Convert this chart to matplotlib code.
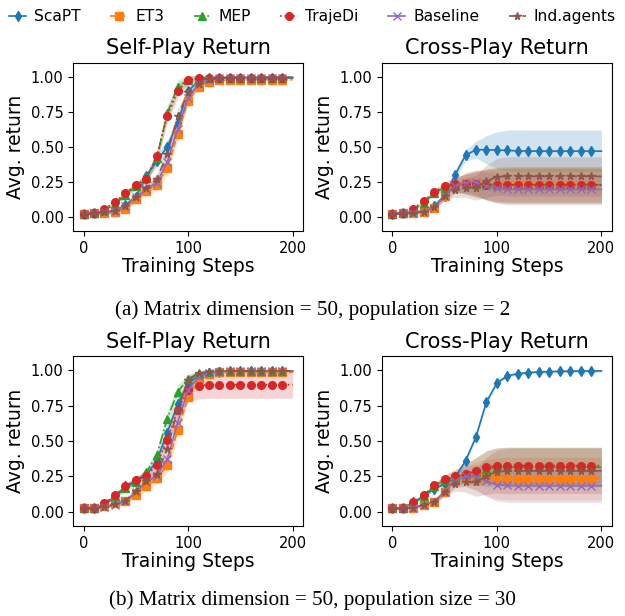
import matplotlib
matplotlib.use("Agg")
import matplotlib.pyplot as plt
import numpy as np

# Training steps (one value every 10 steps)
steps = [0, 10, 20, 30, 40, 50, 60, 70, 80, 90, 100, 110, 120, 130, 140, 150, 160, 170, 180, 190, 200]

methods = ["ScaPT", "ET3", "MEP", "TrajeDi", "Baseline", "Ind.agents"]

# (a) population size = 2, self-play mean
sp_a_scapt = [0.024, 0.026, 0.036, 0.043, 0.083, 0.145, 0.29, 0.40, 0.50, 0.67, 0.90, 0.97, 0.99, 0.995, 0.995, 0.995, 0.995, 0.995, 0.995, 0.995, 0.995]
sp_a_et3 = [0.024, 0.026, 0.026, 0.035, 0.06, 0.126, 0.185, 0.23, 0.35, 0.59, 0.83, 0.93, 0.965, 0.975, 0.978, 0.98, 0.98, 0.98, 0.98, 0.98, 0.98]
sp_a_mep = [0.024, 0.026, 0.05, 0.09, 0.16, 0.22, 0.28, 0.42, 0.74, 0.93, 0.976, 0.99, 0.995, 0.995, 0.995, 0.995, 0.995, 0.995, 0.995, 0.995, 0.995]
sp_a_trajedi = [0.024, 0.026, 0.057, 0.107, 0.17, 0.225, 0.27, 0.435, 0.72, 0.90, 0.976, 0.99, 0.995, 0.995, 0.995, 0.995, 0.995, 0.995, 0.995, 0.995, 0.995]
sp_a_baseline = [0.024, 0.026, 0.033, 0.04, 0.08, 0.14, 0.20, 0.245, 0.39, 0.625, 0.85, 0.95, 0.98, 0.99, 0.993, 0.995, 0.995, 0.995, 0.995, 0.995, 0.995]
sp_a_ind = [0.024, 0.026, 0.035, 0.045, 0.08, 0.145, 0.21, 0.27, 0.45, 0.72, 0.89, 0.95, 0.985, 0.99, 0.995, 0.995, 0.995, 0.995, 0.995, 0.995, 0.995]
# (a) self-play spread
sp_a_std = [0.005, 0.005, 0.01, 0.015, 0.02, 0.025, 0.03, 0.04, 0.05, 0.05, 0.03, 0.02, 0.01, 0.005, 0.005, 0.005, 0.005, 0.005, 0.005, 0.005, 0.005]

# (a) cross-play mean
xp_a_scapt = [0.024, 0.026, 0.036, 0.043, 0.08, 0.15, 0.30, 0.44, 0.48, 0.48, 0.477, 0.475, 0.472, 0.47, 0.47, 0.47, 0.47, 0.47, 0.47, 0.47, 0.47]
xp_a_et3 = [0.024, 0.026, 0.03, 0.036, 0.066, 0.15, 0.22, 0.245, 0.245, 0.233, 0.225, 0.225, 0.225, 0.225, 0.225, 0.225, 0.225, 0.225, 0.225, 0.225, 0.225]
xp_a_mep = [0.024, 0.026, 0.05, 0.10, 0.17, 0.21, 0.23, 0.235, 0.235, 0.232, 0.23, 0.23, 0.23, 0.23, 0.23, 0.23, 0.23, 0.23, 0.23, 0.23, 0.23]
xp_a_trajedi = [0.024, 0.026, 0.06, 0.114, 0.18, 0.22, 0.237, 0.233, 0.233, 0.23, 0.228, 0.228, 0.228, 0.228, 0.228, 0.228, 0.228, 0.228, 0.228, 0.228, 0.228]
xp_a_baseline = [0.024, 0.026, 0.03, 0.036, 0.066, 0.15, 0.22, 0.245, 0.25, 0.22, 0.204, 0.197, 0.197, 0.197, 0.197, 0.197, 0.197, 0.197, 0.197, 0.197, 0.197]
xp_a_ind = [0.024, 0.026, 0.03, 0.036, 0.07, 0.15, 0.19, 0.21, 0.21, 0.256, 0.287, 0.29, 0.29, 0.29, 0.29, 0.29, 0.29, 0.29, 0.29, 0.29, 0.29]
# (a) cross-play spread
xp_a_std_scapt = [0.005, 0.005, 0.01, 0.01, 0.015, 0.02, 0.03, 0.04, 0.06, 0.10, 0.13, 0.145, 0.15, 0.15, 0.15, 0.15, 0.15, 0.15, 0.15, 0.15, 0.15]
xp_a_std_et3 = [0.005, 0.005, 0.01, 0.01, 0.015, 0.03, 0.05, 0.07, 0.09, 0.11, 0.125, 0.13, 0.13, 0.13, 0.13, 0.13, 0.13, 0.13, 0.13, 0.13, 0.13]
xp_a_std_mep = [0.005, 0.005, 0.01, 0.01, 0.015, 0.03, 0.05, 0.07, 0.09, 0.11, 0.125, 0.13, 0.13, 0.13, 0.13, 0.13, 0.13, 0.13, 0.13, 0.13, 0.13]
xp_a_std_trajedi = [0.005, 0.005, 0.01, 0.01, 0.015, 0.03, 0.05, 0.07, 0.09, 0.105, 0.115, 0.12, 0.12, 0.12, 0.12, 0.12, 0.12, 0.12, 0.12, 0.12, 0.12]
xp_a_std_baseline = [0.005, 0.005, 0.01, 0.01, 0.015, 0.03, 0.05, 0.07, 0.085, 0.10, 0.105, 0.11, 0.11, 0.11, 0.11, 0.11, 0.11, 0.11, 0.11, 0.11, 0.11]
xp_a_std_ind = [0.005, 0.005, 0.01, 0.01, 0.015, 0.03, 0.05, 0.07, 0.09, 0.115, 0.13, 0.14, 0.14, 0.14, 0.14, 0.14, 0.14, 0.14, 0.14, 0.14, 0.14]

# (b) population size = 30, self-play mean
sp_b_scapt = [0.024, 0.026, 0.052, 0.106, 0.18, 0.22, 0.26, 0.36, 0.56, 0.76, 0.905, 0.965, 0.983, 0.99, 0.993, 0.995, 0.995, 0.995, 0.995, 0.995, 0.995]
sp_b_et3 = [0.024, 0.026, 0.04, 0.06, 0.078, 0.12, 0.18, 0.236, 0.33, 0.575, 0.81, 0.94, 0.976, 0.985, 0.985, 0.985, 0.985, 0.985, 0.985, 0.985, 0.985]
sp_b_mep = [0.024, 0.026, 0.06, 0.113, 0.17, 0.21, 0.28, 0.40, 0.657, 0.846, 0.94, 0.976, 0.99, 0.995, 0.995, 0.995, 0.995, 0.995, 0.995, 0.995, 0.995]
sp_b_trajedi = [0.024, 0.026, 0.06, 0.118, 0.18, 0.227, 0.253, 0.333, 0.51, 0.72, 0.86, 0.89, 0.898, 0.898, 0.898, 0.898, 0.898, 0.898, 0.898, 0.898, 0.898]
sp_b_baseline = [0.024, 0.026, 0.033, 0.05, 0.075, 0.14, 0.21, 0.255, 0.37, 0.63, 0.86, 0.953, 0.98, 0.99, 0.993, 0.995, 0.995, 0.995, 0.995, 0.995, 0.995]
sp_b_ind = [0.024, 0.026, 0.036, 0.054, 0.078, 0.15, 0.22, 0.267, 0.444, 0.72, 0.93, 0.98, 0.99, 0.995, 0.995, 0.995, 0.995, 0.995, 0.995, 0.995, 0.995]
# (b) self-play spread
sp_b_std = [0.005, 0.005, 0.01, 0.015, 0.02, 0.025, 0.03, 0.04, 0.05, 0.05, 0.03, 0.02, 0.01, 0.005, 0.005, 0.005, 0.005, 0.005, 0.005, 0.005, 0.005]
sp_b_std_trajedi = [0.005, 0.005, 0.01, 0.015, 0.02, 0.025, 0.03, 0.04, 0.05, 0.07, 0.085, 0.093, 0.095, 0.095, 0.095, 0.095, 0.095, 0.095, 0.095, 0.095, 0.095]

# (b) cross-play mean
xp_b_scapt = [0.024, 0.026, 0.067, 0.113, 0.161, 0.196, 0.243, 0.36, 0.53, 0.776, 0.91, 0.96, 0.976, 0.983, 0.988, 0.99, 0.992, 0.993, 0.994, 0.995, 0.995]
xp_b_et3 = [0.024, 0.026, 0.03, 0.05, 0.072, 0.142, 0.227, 0.25, 0.255, 0.24, 0.236, 0.235, 0.235, 0.235, 0.235, 0.235, 0.235, 0.235, 0.235, 0.235, 0.235]
xp_b_mep = [0.024, 0.026, 0.06, 0.11, 0.18, 0.225, 0.245, 0.265, 0.285, 0.305, 0.315, 0.315, 0.315, 0.315, 0.315, 0.315, 0.315, 0.315, 0.315, 0.315, 0.315]
xp_b_trajedi = [0.024, 0.026, 0.067, 0.118, 0.19, 0.232, 0.25, 0.27, 0.286, 0.315, 0.327, 0.327, 0.327, 0.327, 0.327, 0.327, 0.327, 0.327, 0.327, 0.327, 0.327]
xp_b_baseline = [0.024, 0.026, 0.03, 0.05, 0.07, 0.14, 0.22, 0.25, 0.245, 0.216, 0.19, 0.187, 0.185, 0.185, 0.185, 0.185, 0.185, 0.185, 0.185, 0.185, 0.185]
xp_b_ind = [0.024, 0.026, 0.03, 0.05, 0.07, 0.14, 0.196, 0.21, 0.21, 0.255, 0.284, 0.287, 0.29, 0.29, 0.29, 0.29, 0.29, 0.29, 0.29, 0.29, 0.29]
# (b) cross-play spread
xp_b_std_scapt = [0.005, 0.005, 0.01, 0.01, 0.015, 0.02, 0.02, 0.02, 0.02, 0.02, 0.015, 0.01, 0.01, 0.01, 0.01, 0.01, 0.01, 0.01, 0.01, 0.01, 0.01]
xp_b_std_et3 = [0.005, 0.005, 0.01, 0.01, 0.015, 0.03, 0.05, 0.07, 0.10, 0.13, 0.145, 0.15, 0.15, 0.15, 0.15, 0.15, 0.15, 0.15, 0.15, 0.15, 0.15]
xp_b_std_mep = [0.005, 0.005, 0.01, 0.01, 0.015, 0.03, 0.05, 0.07, 0.10, 0.125, 0.135, 0.14, 0.14, 0.14, 0.14, 0.14, 0.14, 0.14, 0.14, 0.14, 0.14]
xp_b_std_trajedi = [0.005, 0.005, 0.01, 0.01, 0.015, 0.03, 0.05, 0.07, 0.095, 0.115, 0.125, 0.13, 0.13, 0.13, 0.13, 0.13, 0.13, 0.13, 0.13, 0.13, 0.13]
xp_b_std_baseline = [0.005, 0.005, 0.01, 0.01, 0.015, 0.03, 0.05, 0.07, 0.09, 0.105, 0.115, 0.12, 0.12, 0.12, 0.12, 0.12, 0.12, 0.12, 0.12, 0.12, 0.12]
xp_b_std_ind = [0.005, 0.005, 0.01, 0.01, 0.015, 0.03, 0.05, 0.07, 0.10, 0.13, 0.15, 0.16, 0.16, 0.16, 0.16, 0.16, 0.16, 0.16, 0.16, 0.16, 0.16]

colors = ["#1f77b4", "#ff7f0e", "#2ca02c", "#d62728", "#9467bd", "#8c564b"]
markers = ["d", "s", "^", "o", "x", "*"]
linestyles = ["-", "--", "-.", ":", "-", (0, (5, 3))]

panels = [
    ("Self-Play Return", [sp_a_scapt, sp_a_et3, sp_a_mep, sp_a_trajedi, sp_a_baseline, sp_a_ind],
     [sp_a_std] * 6),
    ("Cross-Play Return", [xp_a_scapt, xp_a_et3, xp_a_mep, xp_a_trajedi, xp_a_baseline, xp_a_ind],
     [xp_a_std_scapt, xp_a_std_et3, xp_a_std_mep, xp_a_std_trajedi, xp_a_std_baseline, xp_a_std_ind]),
    ("Self-Play Return", [sp_b_scapt, sp_b_et3, sp_b_mep, sp_b_trajedi, sp_b_baseline, sp_b_ind],
     [sp_b_std, sp_b_std, sp_b_std, sp_b_std_trajedi, sp_b_std, sp_b_std]),
    ("Cross-Play Return", [xp_b_scapt, xp_b_et3, xp_b_mep, xp_b_trajedi, xp_b_baseline, xp_b_ind],
     [xp_b_std_scapt, xp_b_std_et3, xp_b_std_mep, xp_b_std_trajedi, xp_b_std_baseline, xp_b_std_ind]),
]

# axes boxes in figure fraction: [left, bottom, width, height]
boxes = [
    [0.117, 0.625, 0.368, 0.273],
    [0.611, 0.625, 0.368, 0.273],
    [0.117, 0.146, 0.368, 0.276],
    [0.611, 0.146, 0.368, 0.276],
]

fig = plt.figure(figsize=(6.25, 6.16), dpi=100)
x = np.array(steps)

for (title, means, stds), box in zip(panels, boxes):
    ax = fig.add_axes(box)
    for i in range(6):
        m = np.array(means[i])
        s = np.array(stds[i])
        ax.fill_between(x, m - s, m + s, color=colors[i], alpha=0.2, linewidth=0)
        ax.plot(x, m, color=colors[i], marker=markers[i], linestyle=linestyles[i],
                linewidth=1.2, markersize=5.5, markevery=slice(0, 20), label=methods[i])
    ax.set_title(title, fontsize=15)
    ax.set_xlabel("Training Steps", fontsize=13.5, labelpad=1)
    ax.set_ylabel("Avg. return", fontsize=13.5, labelpad=4)
    ax.set_ylim(-0.1, 1.1)
    ax.set_yticks([0.0, 0.25, 0.5, 0.75, 1.0])
    ax.set_xticks([0, 100, 200])
    ax.tick_params(labelsize=10.5)
    if box is boxes[0]:
        handles, labels = ax.get_legend_handles_labels()

fig.legend(handles, labels, loc="upper center", bbox_to_anchor=(0.5, 1.0), ncol=6,
           frameon=False, fontsize=11.2, handlelength=1.1, handletextpad=0.5,
           columnspacing=1.9, borderaxespad=0.2)

fig.text(0.5, 1 - 310 / 616, "(a) Matrix dimension = 50, population size = 2",
         ha="center", va="center", fontsize=15.2, family="Liberation Serif")
fig.text(0.5, 1 - 600 / 616, "(b) Matrix dimension = 50, population size = 30",
         ha="center", va="center", fontsize=15.2, family="Liberation Serif")

fig.savefig("out.png", dpi=100)
